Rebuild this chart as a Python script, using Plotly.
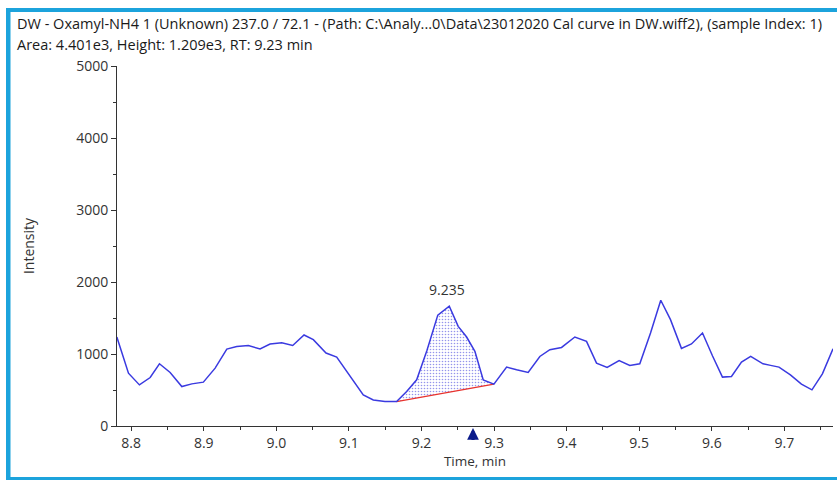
import plotly.graph_objects as go

# ---- data ----
time_min = [8.7803, 8.7963, 8.8114, 8.8262, 8.8390, 8.8537, 8.8698, 8.8836, 8.8995, 8.9157,
            8.9318, 8.9455, 8.9615, 8.9776, 8.9914, 9.0075, 9.0226, 9.0382, 9.0510, 9.0685,
            9.0832, 9.1015, 9.1198, 9.1336, 9.1497, 9.1658, 9.1796, 9.1934, 9.2075, 9.2225,
            9.2383, 9.2506, 9.2622, 9.2736, 9.2851, 9.2998, 9.3173, 9.3311, 9.3470, 9.3631,
            9.3769, 9.3930, 9.4113, 9.4274, 9.4412, 9.4558, 9.4723, 9.4870, 9.5008, 9.5156,
            9.5297, 9.5431, 9.5582, 9.5720, 9.5872, 9.6009, 9.6147, 9.6271, 9.6409, 9.6536,
            9.6706, 9.6810, 9.6926, 9.7083, 9.7235, 9.7380, 9.7524, 9.7670]
intensity = [1236, 734, 571, 673, 864, 743, 548, 585, 609, 804,
             1069, 1105, 1119, 1069, 1139, 1157, 1119, 1264, 1199, 1013,
             957, 697, 432, 362, 339, 339, 478, 641, 1050, 1540,
             1663, 1384, 1236, 1036, 641, 581, 818, 780, 743, 966,
             1059, 1091, 1236, 1175, 874, 813, 910, 840, 864, 1292,
             1747, 1477, 1078, 1139, 1292, 976, 679, 688, 888, 966,
             864, 842, 818, 711, 581, 502, 725, 1073]
peak_start_idx = 25
peak_end_idx = 35
peak_rt_label = "9.235"
peak_rt = 9.235
peak_label_height = 1663
arrow_time = 9.271

title_line1 = "DW - Oxamyl-NH4 1 (Unknown) 237.0 / 72.1 - (Path: C:\\Analy...0\\Data\\23012020 Cal curve in DW.wiff2), (sample Index: 1)"
title_line2 = "Area: 4.401e3, Height: 1.209e3, RT: 9.23 min"
x_ticks = [8.8, 8.9, 9.0, 9.1, 9.2, 9.3, 9.4, 9.5, 9.6, 9.7]
y_ticks = [0, 1000, 2000, 3000, 4000, 5000]
x_range = [8.7805, 9.767]

FONT = "Open Sans"
LINE_BLUE = "#3a3ae0"
FRAME = "#1ca3dc"
TXT = "#333333"
ARROW = "#0a1a8a"

# plot area in pixels
W, H = 837, 480
L, R, T, B = 117, 4, 66, 54
PW, PH = W - L - R, H - T - B


def px(xp):
    return (xp - L) / PW


def py(yp):
    return (H - B - yp) / PH


arrow_paper_x = (arrow_time - x_range[0]) / (x_range[1] - x_range[0])
stem_half = 1.6 / PW

fig = go.Figure()

# filled peak area between curve and baseline
peak_x = time_min[peak_start_idx:peak_end_idx + 1] + [time_min[peak_start_idx]]
peak_y = intensity[peak_start_idx:peak_end_idx + 1] + [intensity[peak_start_idx]]
fig.add_trace(go.Scatter(
    x=peak_x, y=peak_y, mode="none", fill="toself",
    fillcolor="rgba(0,0,0,0)",
    fillpattern=dict(shape=".", fgcolor="#2a2ad8", bgcolor="white", size=3, solidity=0.22),
    hoverinfo="skip", showlegend=False))

# baseline
fig.add_trace(go.Scatter(
    x=[time_min[peak_start_idx], time_min[peak_end_idx]],
    y=[intensity[peak_start_idx], intensity[peak_end_idx]],
    mode="lines", line=dict(color="#e8332e", width=1.4), showlegend=False))

# chromatogram
fig.add_trace(go.Scatter(
    x=time_min, y=intensity, mode="lines",
    line=dict(color=LINE_BLUE, width=1.5), showlegend=False))

shapes = [
    dict(type="rect", xref="paper", yref="paper", x0=px(6), x1=px(840), y0=py(8), y1=py(12),
         fillcolor=FRAME, line=dict(width=0), layer="above"),
    dict(type="rect", xref="paper", yref="paper", x0=px(6), x1=px(10.5), y0=py(8), y1=py(483),
         fillcolor=FRAME, line=dict(width=0), layer="above"),
    dict(type="rect", xref="paper", yref="paper", x0=px(6), x1=px(840), y0=py(477), y1=py(483),
         fillcolor=FRAME, line=dict(width=0), layer="above"),
    # arrow stem below the axis at the expected retention time
    dict(type="rect", xref="paper", yref="paper",
         x0=arrow_paper_x - stem_half, x1=arrow_paper_x + stem_half,
         y0=py(433), y1=py(440), fillcolor=ARROW, line=dict(width=0), layer="above"),
]

annotations = [
    dict(text=title_line1, xref="paper", yref="paper", x=px(15), y=py(24), xanchor="left",
         yanchor="middle", showarrow=False, font=dict(family=FONT, size=14.5, color="#1a1a1a")),
    dict(text=title_line2, xref="paper", yref="paper", x=px(15), y=py(44), xanchor="left",
         yanchor="middle", showarrow=False, font=dict(family=FONT, size=14.5, color="#1a1a1a")),
    dict(text=peak_rt_label, x=peak_rt, y=peak_label_height, xref="x", yref="y",
         yshift=17, showarrow=False, font=dict(family=FONT, size=14, color=TXT)),
    # arrow head
    dict(text="", x=arrow_time, y=0, xref="x", yref="y", showarrow=True,
         ax=0, ay=7, arrowhead=2, arrowsize=0.65, arrowwidth=3.6, arrowcolor=ARROW, standoff=2),
]

fig.update_layout(
    width=W, height=H,
    margin=dict(l=L, r=R, t=T, b=B),
    paper_bgcolor="white", plot_bgcolor="white",
    font=dict(family=FONT, size=14, color=TXT),
    shapes=shapes, annotations=annotations,
    xaxis=dict(range=x_range, tickvals=x_ticks, ticktext=[f"{v:.1f}" for v in x_ticks],
               showgrid=False, zeroline=False, showline=True, linecolor=TXT, linewidth=1,
               ticks="outside", ticklen=4, tickcolor=TXT, tickfont=dict(size=14, color=TXT),
               minor=dict(dtick=0.05, tick0=8.8, ticks="outside", ticklen=3, tickcolor=TXT),
               title=dict(text="Time, min", font=dict(size=13.5, color=TXT), standoff=4)),
    yaxis=dict(range=[0, 5000], tickvals=y_ticks, showgrid=False, zeroline=False,
               showline=True, linecolor=TXT, linewidth=1,
               ticks="outside", ticklen=5, tickcolor=TXT, tickfont=dict(size=14, color=TXT),
               minor=dict(dtick=500, ticks="outside", ticklen=3, tickcolor=TXT),
               title=dict(text="Intensity", font=dict(size=14, color=TXT), standoff=38)),
)

fig.write_html("out.html", config={"displayModeBar": False})

# remove the default page margin so the figure sits at the window's origin
with open("out.html", "r", encoding="utf-8") as f:
    html = f.read()
html = html.replace("<head>", "<head><style>html,body{margin:0;padding:0;overflow:hidden;}</style>", 1)
with open("out.html", "w", encoding="utf-8") as f:
    f.write(html)
